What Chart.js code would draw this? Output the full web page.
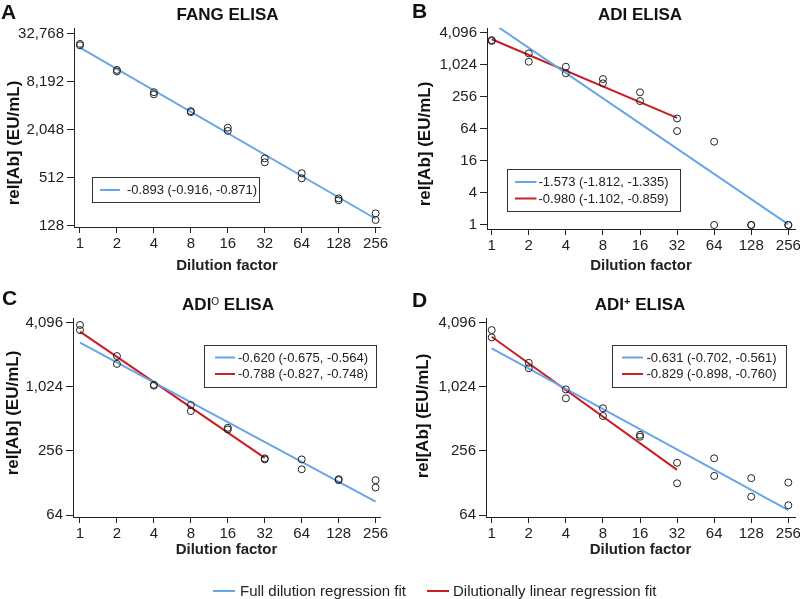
<!DOCTYPE html>
<html>
<head>
<meta charset="utf-8">
<script src="https://cdn.jsdelivr.net/npm/chart.js@4.4.0/dist/chart.umd.min.js"></script>
<style>
  html, body { margin: 0; padding: 0; background: #fff; }
  body { width: 800px; height: 599px; position: relative; overflow: hidden;
         font-family: "Liberation Sans", Arial, Helvetica, sans-serif; color: #222; }
  canvas { position: absolute; }
  #legend { position: absolute; left: 0; top: 0; width: 800px; height: 599px; pointer-events: none; }
  .sw { position: absolute; height: 2px; width: 22px; }
  .lt { position: absolute; font-size: 15px; line-height: 18px; white-space: nowrap; }
</style>
</head>
<body>
<canvas id="cA" width="400" height="280" style="left:0;top:0"></canvas>
<canvas id="cB" width="400" height="280" style="left:400px;top:0"></canvas>
<canvas id="cC" width="400" height="280" style="left:0;top:280px"></canvas>
<canvas id="cD" width="400" height="280" style="left:400px;top:280px"></canvas>
<div id="legend"></div>
<script>
// ---------------- DATA ----------------
const dilutions = [1, 2, 4, 8, 16, 32, 64, 128, 256];
const xTickValues = [1, 2, 4, 8, 16, 32, 64, 128, 256];
const fullFitX = [1, 256];
const linFitX = [1, 32];

// A: FANG ELISA
const titleA = [['FANG ELISA', '']];
const fangRep1 = [24600, 11600, 6080, 3520, 2180, 898, 584, 282, 183];
const fangRep2 = [23600, 11100, 5720, 3420, 1990, 801, 505, 267, 151];
const fangFullFit = [22070, 156.5];
const fangFullLabel = '-0.893 (-0.916, -0.871)';
const fangTicksY = [128, 512, 2048, 8192, 32768];

// B: ADI ELISA
const titleB = [['ADI ELISA', '']];
const adiRep1 = [2950, 1665, 935, 549, 309, 100, 36.6, 1, 1];
const adiRep2 = [2850, 1160, 704, 456, 212, 58, 1, 1, 1];
const adiFullFit = [6290, 1.03];
const adiLinFit = [3060, 102.6];
const adiFullLabel = '-1.573 (-1.812, -1.335)';
const adiLinLabel = '-0.980 (-1.102, -0.859)';
const adiTicksY = [1, 4, 16, 64, 256, 1024, 4096];

// C: ADI-O ELISA
const titleC = [['ADI', ''], ['O', 'supO'], [' ELISA', '']];
const adiORep1 = [3900, 1990, 1070, 690, 422, 218, 213, 139, 136];
const adiORep2 = [3490, 1680, 1050, 605, 407, 213, 172, 136, 116];
const adiOFullFit = [2660, 85.6];
const adiOLinFit = [3370, 220];
const adiOFullLabel = '-0.620 (-0.675, -0.564)';
const adiOLinLabel = '-0.788 (-0.827, -0.748)';
const adiOTicksY = [64, 256, 1024, 4096];

// D: ADI+ ELISA
const titleD = [['ADI', ''], ['+', 'supPlus'], [' ELISA', '']];
const adiPRep1 = [3490, 1720, 968, 644, 362, 198, 218, 142, 129];
const adiPRep2 = [2980, 1530, 798, 545, 348, 127, 149, 95, 79];
const adiPFullFit = [2350, 71];
const adiPLinFit = [3020, 170];
const adiPFullLabel = '-0.631 (-0.702, -0.561)';
const adiPLinLabel = '-0.829 (-0.898, -0.760)';
const adiPTicksY = [64, 256, 1024, 4096];

const yAxisTitle = 'rel[Ab] (EU/mL)';
const xAxisTitle = 'Dilution factor';
const legendLabels = ['Full dilution regression fit', 'Dilutionally linear regression fit'];

// ---------------- STYLE / RENDER ----------------
const FONT = '"Liberation Sans", Arial, Helvetica, sans-serif';
Chart.defaults.font.family = FONT;
Chart.defaults.color = '#222';
const FULL_COLOR = '#68a6e8';
const LIN_COLOR = '#c81e24';
const INK = '#222';

function pts(xs, ys) { return xs.map((x, i) => ({ x: x, y: ys[i] })); }

const decoPlugin = {
  id: 'deco',
  afterDraw(chart, args, o) {
    const ctx = chart.ctx;
    ctx.save();
    ctx.fillStyle = '#111';
    // panel letter
    ctx.font = 'bold 21px ' + FONT;
    ctx.textAlign = 'left';
    ctx.textBaseline = 'alphabetic';
    ctx.fillText(o.letter, o.letterX, o.letterY);
    // title with optional superscript
    const fontFor = k => k === 'supO' ? '10px ' + FONT : (k === 'supPlus' ? 'bold 11px ' + FONT : 'bold 17px ' + FONT);
    let total = 0;
    o.title.forEach(([t, k]) => { ctx.font = fontFor(k); total += ctx.measureText(t).width; });
    let x = o.titleX - total / 2;
    o.title.forEach(([t, k]) => {
      ctx.font = fontFor(k);
      ctx.fillText(t, x, o.titleY - (k ? 5 : 0));
      x += ctx.measureText(t).width;
    });
    // y axis title
    ctx.save();
    ctx.translate(o.yTitleX, o.yTitleY);
    ctx.rotate(-Math.PI / 2);
    ctx.textAlign = 'center';
    ctx.textBaseline = 'middle';
    ctx.font = 'bold 17px ' + FONT;
    ctx.fillText(yAxisTitle, 0, 0);
    ctx.restore();
    // legend box
    const b = o.box;
    ctx.fillStyle = '#fff';
    ctx.fillRect(b.x, b.y, b.w, b.h);
    ctx.strokeStyle = '#333';
    ctx.lineWidth = 1;
    ctx.strokeRect(Math.round(b.x) + 0.5, Math.round(b.y) + 0.5, Math.round(b.w), Math.round(b.h));
    const fits = chart.data.datasets.filter(d => d.isFit);
    ctx.font = '13px ' + FONT;
    ctx.textAlign = 'left';
    ctx.textBaseline = 'middle';
    fits.forEach((d, i) => {
      const ry = b.rows[i];
      ctx.strokeStyle = d.borderColor;
      ctx.lineWidth = 2;
      ctx.beginPath();
      ctx.moveTo(b.lx0, ry);
      ctx.lineTo(b.lx1, ry);
      ctx.stroke();
      ctx.fillStyle = '#222';
      ctx.fillText(d.label, b.tx, ry + 0.5);
    });
    ctx.restore();
  }
};

function makePanel(id, p) {
  const W = 400, H = 280;
  const pointDs = rep => ({
    label: 'replicate', data: pts(dilutions, rep), showLine: false,
    pointStyle: 'circle', pointRadius: 3.5, pointBorderWidth: 1,
    pointBorderColor: '#222', pointBackgroundColor: 'rgba(0,0,0,0)', clip: false
  });
  const lineDs = (label, xs, ys, color) => ({
    label: label, isFit: true, data: pts(xs, ys), showLine: true, tension: 0,
    borderColor: color, borderWidth: 2, pointRadius: 0, fill: false
  });
  const datasets = [pointDs(p.rep1), pointDs(p.rep2), lineDs(p.fullLabel, fullFitX, p.fullFit, FULL_COLOR)];
  if (p.linFit) datasets.push(lineDs(p.linLabel, linFitX, p.linFit, LIN_COLOR));

  const a = p.area;
  new Chart(document.getElementById(id), {
    type: 'scatter',
    data: { datasets: datasets },
    options: {
      responsive: false, animation: false, events: [],
      layout: { padding: { left: 0, top: a.t, right: W - a.r, bottom: 0 } },
      plugins: { legend: { display: false }, tooltip: { enabled: false }, deco: p.deco },
      scales: {
        x: {
          type: 'logarithmic', min: p.xMin, max: p.xMax,
          afterBuildTicks: s => { s.ticks = xTickValues.map(v => ({ value: v })); },
          afterFit: s => { s.height = H - a.b; s.paddingLeft = 0; s.paddingRight = 0; },
          ticks: { autoSkip: false, maxRotation: 0, minRotation: 0, padding: 2,
                   font: { size: 15 }, color: INK, callback: v => Number(v).toLocaleString('en-US') },
          grid: { drawOnChartArea: false, drawTicks: true, tickLength: 6, color: INK, lineWidth: 1 },
          border: { display: true, color: INK, width: 1 },
          title: { display: true, text: xAxisTitle, color: INK, font: { size: 15, weight: 'bold' },
                   padding: { top: 0, bottom: p.xTitlePad } }
        },
        y: {
          type: 'logarithmic', min: p.yMin, max: p.yMax,
          afterBuildTicks: s => { s.ticks = p.yTicks.map(v => ({ value: v })); },
          afterFit: s => { s.width = a.l; s.paddingTop = 0; s.paddingBottom = 0; },
          ticks: { autoSkip: false, padding: 3, font: { size: 15 }, color: INK,
                   callback: v => Number(v).toLocaleString('en-US') },
          grid: { drawOnChartArea: false, drawTicks: true, tickLength: 7, color: INK, lineWidth: 1 },
          border: { display: true, color: INK, width: 1 }
        }
      }
    },
    plugins: [decoPlugin]
  });
}

makePanel('cA', {
  rep1: fangRep1, rep2: fangRep2, fullFit: fangFullFit, fullLabel: fangFullLabel,
  yTicks: fangTicksY, xMin: 0.894, xMax: 278, yMin: 123.3, yMax: 38970,
  area: { l: 74, t: 28, r: 380, b: 227 }, xTitlePad: 5,
  deco: { letter: 'A', letterX: 1, letterY: 19, title: titleA, titleX: 227.5, titleY: 20,
          yTitleX: 14, yTitleY: 143,
          box: { x: 92, y: 177, w: 167, h: 25, rows: [190], lx0: 100, lx1: 120, tx: 127 } }
});
makePanel('cB', {
  rep1: adiRep1, rep2: adiRep2, fullFit: adiFullFit, fullLabel: adiFullLabel,
  linFit: adiLinFit, linLabel: adiLinLabel,
  yTicks: adiTicksY, xMin: 0.916, xMax: 290, yMin: 0.841, yMax: 4985,
  area: { l: 87, t: 28, r: 395, b: 229 }, xTitlePad: 5,
  deco: { letter: 'B', letterX: 12, letterY: 18, title: titleB, titleX: 240, titleY: 20,
          yTitleX: 25, yTitleY: 144,
          box: { x: 107, y: 169, w: 173, h: 42, rows: [182, 198.5], lx0: 115, lx1: 136.5, tx: 138.5 } }
});
makePanel('cC', {
  rep1: adiORep1, rep2: adiORep2, fullFit: adiOFullFit, fullLabel: adiOFullLabel,
  linFit: adiOLinFit, linLabel: adiOLinLabel,
  yTicks: adiOTicksY, xMin: 0.877, xMax: 278, yMin: 61.3, yMax: 4532,
  area: { l: 73, t: 38, r: 380, b: 237 }, xTitlePad: 1,
  deco: { letter: 'C', letterX: 2, letterY: 25, title: titleC, titleX: 228, titleY: 30,
          yTitleX: 13, yTitleY: 133,
          box: { x: 204, y: 65, w: 172, h: 42, rows: [77.5, 94], lx0: 215, lx1: 235, tx: 238 } }
});
makePanel('cD', {
  rep1: adiPRep1, rep2: adiPRep2, fullFit: adiPFullFit, fullLabel: adiPFullLabel,
  linFit: adiPLinFit, linLabel: adiPLinLabel,
  yTicks: adiPTicksY, xMin: 0.899, xMax: 290, yMin: 61.3, yMax: 4532,
  area: { l: 86, t: 38, r: 395, b: 237 }, xTitlePad: 1,
  deco: { letter: 'D', letterX: 12, letterY: 27, title: titleD, titleX: 240, titleY: 30,
          yTitleX: 23, yTitleY: 136,
          box: { x: 212, y: 65, w: 174, h: 42, rows: [77.5, 94], lx0: 222, lx1: 243, tx: 246.5 } }
});

// bottom legend (HTML text)
(function () {
  const lg = document.getElementById('legend');
  const items = [
    { label: legendLabels[0], color: FULL_COLOR, lineX: 213, textX: 240 },
    { label: legendLabels[1], color: LIN_COLOR, lineX: 427, textX: 453 }
  ];
  items.forEach(it => {
    const sw = document.createElement('div');
    sw.className = 'sw';
    sw.style.left = it.lineX + 'px';
    sw.style.top = '590px';
    sw.style.background = it.color;
    lg.appendChild(sw);
    const t = document.createElement('div');
    t.className = 'lt';
    t.style.left = it.textX + 'px';
    t.style.top = '582px';
    t.textContent = it.label;
    lg.appendChild(t);
  });
})();
</script>
</body>
</html>
